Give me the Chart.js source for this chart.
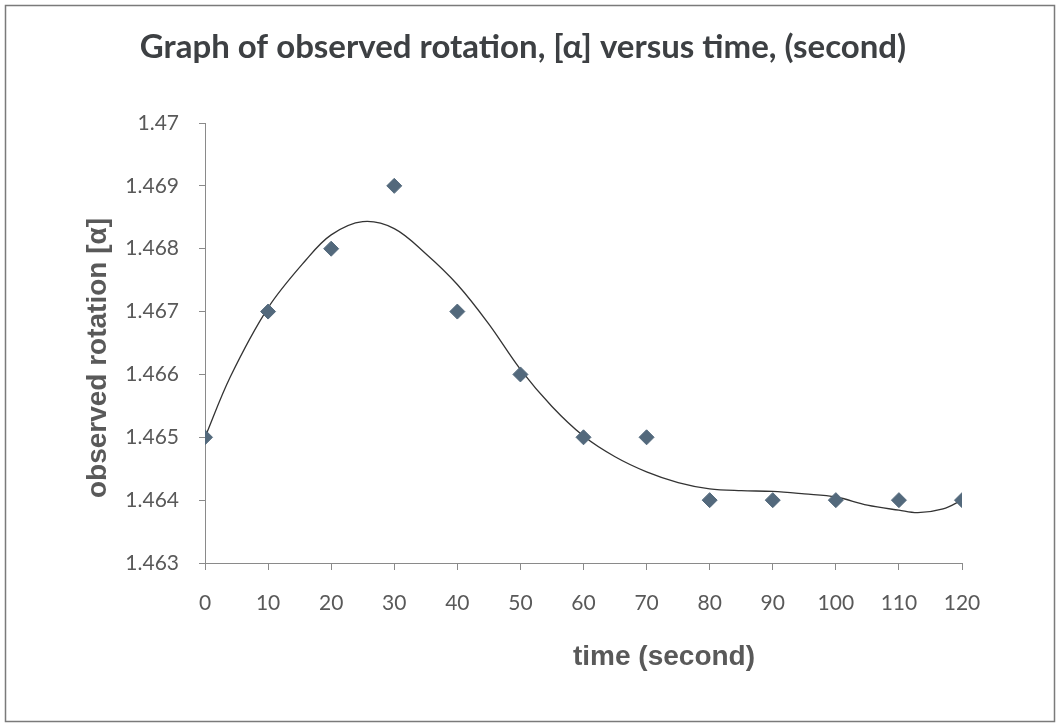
<!DOCTYPE html>
<html>
<head>
<meta charset="utf-8">
<title>Observed rotation versus time</title>
<script src="https://cdn.jsdelivr.net/npm/chart.js@4.4.1/dist/chart.umd.min.js"></script>
<style>
    body { margin: 0; background: #fff; }
    .chart-box { width: 1058px; height: 723px; position: relative; }
</style>
</head>
<body>
<div class="chart-box"><canvas id="rotationChart"></canvas></div>
<script>
// Measured data (time in seconds, rotation)
const times = [0, 10, 20, 30, 40, 50, 60, 70, 80, 90, 100, 110, 120];
const rotations = [1.465, 1.467, 1.468, 1.469, 1.467, 1.466, 1.465, 1.465, 1.464, 1.464, 1.464, 1.464, 1.464];

// Trend line
const trendTimes = [0, 4, 10, 16, 20, 25, 30, 35, 40, 45, 50, 55, 60, 65, 70, 75, 80, 85, 90, 95, 100, 105, 110, 113, 117, 120];
const trendValues = [1.46500, 1.46596, 1.46706, 1.46782, 1.46822, 1.46843, 1.46832, 1.46792, 1.46743, 1.46680, 1.46608, 1.46549, 1.46502,
    1.46469, 1.46445, 1.46428, 1.46418, 1.46415, 1.46414, 1.46410, 1.46405, 1.46392, 1.46384, 1.46380, 1.46386, 1.46400];

// Tick labels
const xTickLabels = ['0', '10', '20', '30', '40', '50', '60', '70', '80', '90', '100', '110', '120'];
const yTickLabels = ['1.463', '1.464', '1.465', '1.466', '1.467', '1.468', '1.469', '1.47'];

// Texts
const chartTitle = 'Graph of observed rotation, [α] versus time, (second)';
const xTitle = 'time (second)';
const yTitle = 'observed rotation [α]';

const axisGrey = '#8a8a8a';
const textGrey = '#595959';

// Frame round the picture, plus the title and axis titles where the original has them
const framePlugin = {
    id: 'frame',
    afterDraw(chart) {
        const ctx = chart.ctx;
        ctx.save();
        ctx.strokeStyle = '#7a7a7a';
        ctx.lineWidth = 1.5;
        ctx.strokeRect(5.5, 5.5, chart.width - 9, chart.height - 7);

        ctx.textAlign = 'center';
        ctx.textBaseline = 'middle';

        ctx.fillStyle = '#3d4043';
        ctx.font = 'bold 33px Lato';
        ctx.fillText(chartTitle, 523, 47);

        ctx.fillStyle = textGrey;
        ctx.font = 'bold 28px "Liberation Sans"';
        ctx.fillText(xTitle, 664, 657);

        ctx.translate(98, 358);
        ctx.rotate(-Math.PI / 2);
        ctx.fillText(yTitle, 0, 0);
        ctx.restore();
    }
};

const ctx = document.getElementById('rotationChart').getContext('2d');
const rotationChart = new Chart(ctx, {
    type: 'scatter',
    data: {
        datasets: [{
            label: 'Trend',
            data: trendTimes.map((t, i) => ({ x: t, y: trendValues[i] })),
            showLine: true,
            borderColor: '#333333',
            borderWidth: 1.3,
            pointRadius: 0,
            tension: 0.35,
            fill: false,
            order: 2
        }, {
            label: 'observed rotation',
            data: times.map((t, i) => ({ x: t, y: rotations[i] })),
            showLine: false,
            pointStyle: 'rectRot',
            pointRadius: 7.5,
            backgroundColor: '#53697c',
            borderColor: '#53697c',
            borderWidth: 1,
            order: 1
        }]
    },
    options: {
        responsive: true,
        maintainAspectRatio: false,
        animation: false,
        layout: {
            padding: { top: 123, left: 0, right: 96, bottom: 0 }
        },
        plugins: {
            legend: { display: false },
            tooltip: { enabled: false },
            title: { display: false }
        },
        scales: {
            x: {
                type: 'linear',
                min: 0,
                max: 120,
                afterFit(scale) { scale.height = 160; },
                afterBuildTicks(scale) {
                    scale.ticks = times.map(v => ({ value: v }));
                },
                ticks: {
                    color: textGrey,
                    font: { family: 'Lato', size: 21 },
                    padding: 21,
                    maxRotation: 0,
                    callback: (v, i) => xTickLabels[i]
                },
                grid: {
                    drawOnChartArea: false,
                    color: axisGrey,
                    tickLength: 7
                },
                border: { color: axisGrey, width: 1 }
            },
            y: {
                min: 1.463,
                max: 1.47,
                afterFit(scale) { scale.width = 205; },
                afterBuildTicks(scale) {
                    scale.ticks = yTickLabels.map(s => ({ value: parseFloat(s) }));
                },
                ticks: {
                    color: textGrey,
                    font: { family: 'Lato', size: 21 },
                    padding: 20,
                    callback: (v, i) => yTickLabels[i]
                },
                grid: {
                    drawOnChartArea: false,
                    color: axisGrey,
                    tickLength: 6
                },
                border: { color: axisGrey, width: 1 }
            }
        }
    },
    plugins: [framePlugin]
});
</script>
</body>
</html>
